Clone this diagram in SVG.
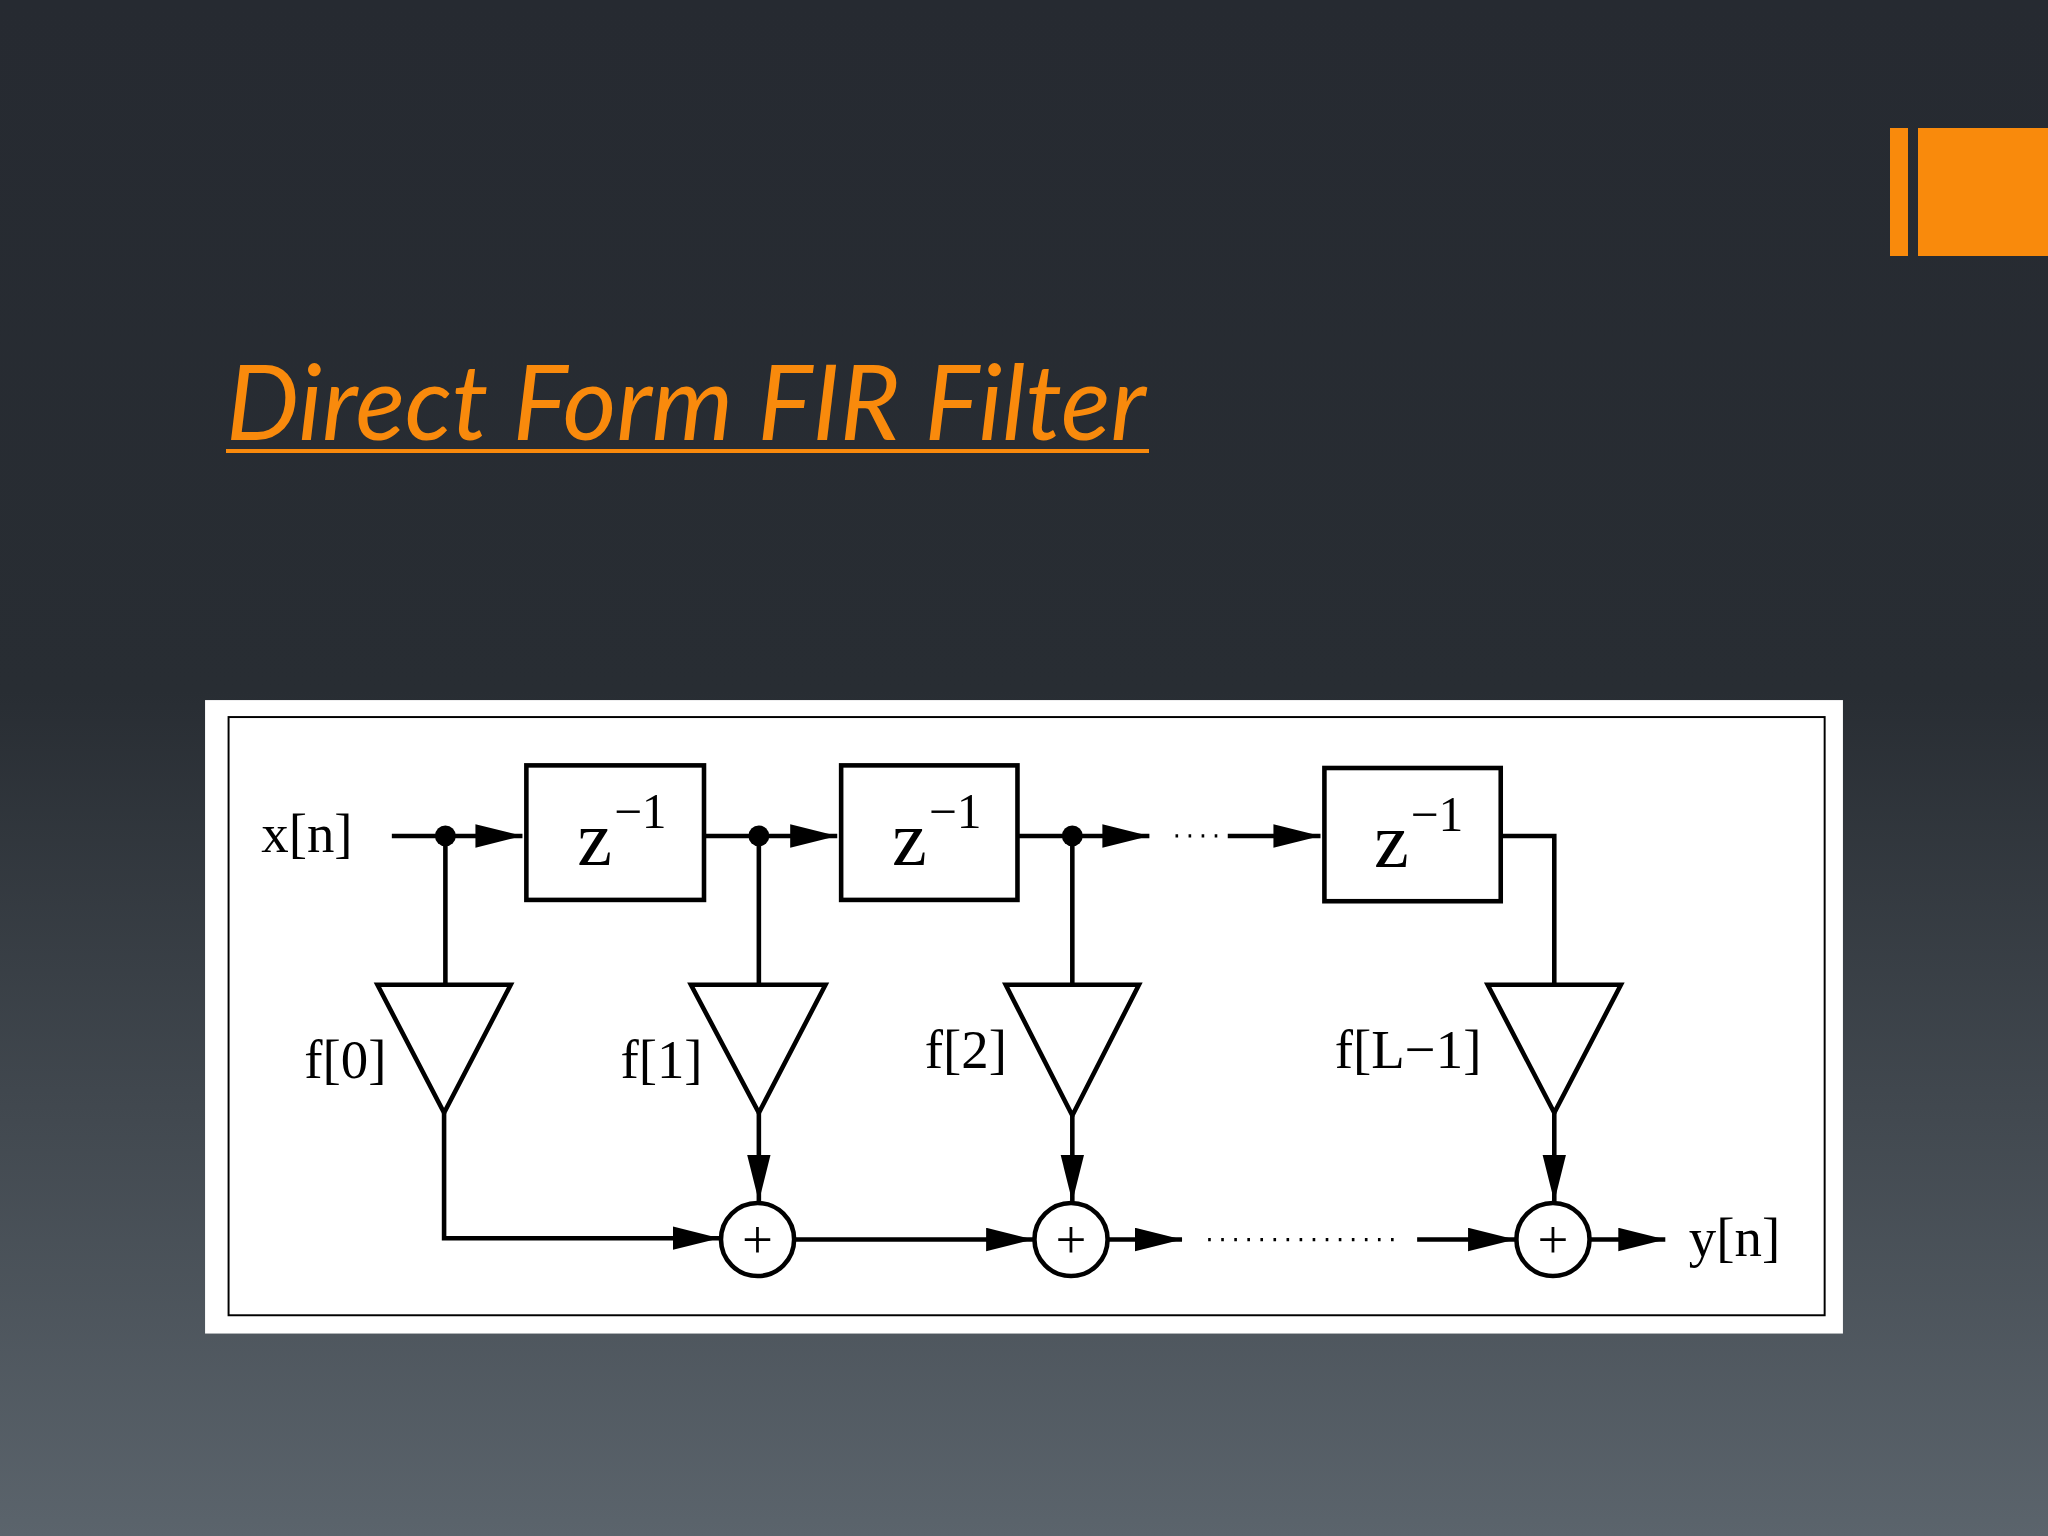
<svg xmlns="http://www.w3.org/2000/svg" width="2048" height="1536" viewBox="0 0 2048 1536">
<defs>
<linearGradient id="bg" x1="0" y1="0" x2="0" y2="1">
<stop offset="0" stop-color="#262a31"/><stop offset="0.45" stop-color="#282d33"/><stop offset="1" stop-color="#5b646c"/>
</linearGradient>
<marker id="ar" markerUnits="userSpaceOnUse" markerWidth="40" markerHeight="20" refX="36" refY="9" orient="auto"><path d="M0,0 L36,9 L0,18 Z" fill="#000"/></marker>
<style>
.l{stroke:#000;stroke-width:3.5;fill:none}
.a{stroke:#000;stroke-width:3.5;fill:none;marker-end:url(#ar)}
.d{stroke:#000;stroke-width:2.5;fill:none;stroke-dasharray:2 8}
.b{stroke:#000;stroke-width:3.5;fill:#fff}
.t{font-family:"Liberation Serif",serif;font-size:42px;fill:#000}
.z{font-family:"Liberation Serif",serif;font-size:60px;fill:#000}
.s{font-family:"Liberation Serif",serif;font-size:38px;fill:#000}
</style>
</defs>
<rect width="2048" height="1536" fill="url(#bg)"/>
<rect x="1890" y="128" width="18" height="128" fill="#f98a0c"/>
<rect x="1918" y="128" width="130" height="128" fill="#f98a0c"/>
<text x="226" y="440" font-family="Lato, 'Open Sans', sans-serif" font-style="italic" font-size="104" fill="#f98a0c" textLength="920" lengthAdjust="spacingAndGlyphs">Direct Form FIR Filter</text>
<rect x="226" y="449" width="923" height="4" fill="#f98a0c"/>
<g transform="scale(1.30612)">
<rect x="157" y="536" width="1254" height="485" fill="#fff"/>
<rect x="175" y="549" width="1222" height="458" fill="none" stroke="#000" stroke-width="1.5"/>
<g id="connectors">
<path class="a" d="M300,640 H400"/>
<path class="a" d="M539,640 H641"/>
<path class="a" d="M779,640 H880"/>
<path class="d" d="M900,640 H940"/>
<path class="a" d="M940,640 H1011"/>
<path class="l" d="M1149,640 H1190 V754"/>
<path class="l" d="M341,640 V754"/><path class="l" d="M581,640 V754"/><path class="l" d="M821,640 V754"/>
<path class="a" d="M340,852 V948 H551"/>
<path class="a" d="M581,852 V920"/><path class="a" d="M821,854 V920"/><path class="a" d="M1190,852 V920"/>
<path class="a" d="M608,949 H791"/>
<path class="a" d="M848,949 H905"/>
<path class="d" d="M925,949 H1075"/>
<path class="a" d="M1085,949 H1160"/>
<path class="a" d="M1217,949 H1275"/>
<circle cx="341" cy="640" r="8"/><circle cx="581" cy="640" r="8"/><circle cx="821" cy="640" r="8"/>
</g>
<g id="x"><text class="t" x="200" y="652">x[n]</text></g>
<g id="d1"><rect class="b" x="403" y="586" width="136" height="103"/><text class="z" x="442" y="662">z</text><text class="s" x="470" y="634">−1</text></g>
<g id="d2"><rect class="b" x="644" y="586" width="135" height="103"/><text class="z" x="683" y="662">z</text><text class="s" x="711" y="634">−1</text></g>
<g id="d3"><rect class="b" x="1014" y="588" width="135" height="102"/><text class="z" x="1052" y="664">z</text><text class="s" x="1080" y="636">−1</text></g>
<g id="g0"><path class="b" d="M289,754 H391 L340,852 Z"/><text class="t" x="233" y="825">f[0]</text></g>
<g id="g1"><path class="b" d="M529,754 H632 L581,852 Z"/><text class="t" x="475" y="825">f[1]</text></g>
<g id="g2"><path class="b" d="M770,754 H872 L821,854 Z"/><text class="t" x="708" y="818">f[2]</text></g>
<g id="g3"><path class="b" d="M1139,754 H1241 L1190,852 Z"/><text class="t" x="1022" y="818">f[L−1]</text></g>
<g id="s1"><circle class="b" cx="580" cy="949" r="28"/><text class="t" x="580" y="963" text-anchor="middle">+</text></g>
<g id="s2"><circle class="b" cx="820" cy="949" r="28"/><text class="t" x="820" y="963" text-anchor="middle">+</text></g>
<g id="s3"><circle class="b" cx="1189" cy="949" r="28"/><text class="t" x="1189" y="963" text-anchor="middle">+</text></g>
<g id="y"><text class="t" x="1293" y="962">y[n]</text></g>
</g>
</svg>
